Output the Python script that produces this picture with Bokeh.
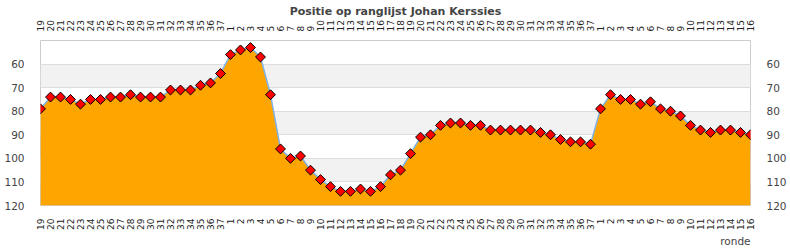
import math
from bokeh.plotting import figure
from bokeh.models import Range1d, FixedTicker, LinearAxis, Title, ColumnDataSource
from bokeh.embed import file_html
from bokeh.resources import INLINE

title_text = "Positie op ranglijst Johan Kerssies"
x_title = "ronde"

rounds = ["19", "20", "21", "22", "23", "24", "25", "26", "27", "28", "29", "30",
          "31", "32", "33", "34", "35", "36", "37",
          "1", "2", "3", "4", "5", "6", "7", "8", "9", "10", "11", "12", "13", "14",
          "15", "16", "17", "18", "19", "20", "21", "22", "23", "24", "25", "26",
          "27", "28", "29", "30", "31", "32", "33", "34", "35", "36", "37",
          "1", "2", "3", "4", "5", "6", "7", "8", "9", "10", "11", "12", "13", "14",
          "15", "16"]

positions = [79, 74, 74, 75, 77, 75, 75, 74, 74, 73, 74, 74,
             74, 71, 71, 71, 69, 68, 64, 56, 54, 53, 57, 73,
             96, 100, 99, 105, 109, 112, 114, 114, 113, 114, 112, 107,
             105, 98, 91, 90, 86, 85, 85, 86, 86, 88, 88, 88,
             88, 88, 89, 90, 92, 93, 93, 94, 79, 73, 75, 75,
             77, 76, 79, 80, 82, 86, 88, 89, 88, 88, 89, 90]

y_ticks = [60, 70, 80, 90, 100, 110, 120]
y_top = 50
y_bottom = 120

idx = list(range(len(rounds)))
src = ColumnDataSource(dict(x=idx, y=positions, base=[y_bottom] * len(idx)))

p = figure(width=790, height=250, output_backend="svg", toolbar_location=None,
           x_range=Range1d(idx[0], idx[-1]), y_range=Range1d(y_bottom, y_top),
           min_border_left=40, min_border_right=40, min_border_top=40, min_border_bottom=45,
           x_axis_location="below", y_axis_location="left")

p.title.text = title_text
p.title.align = "center"
p.title.text_font = "DejaVu Sans"
p.title.text_font_size = "11px"
p.title.text_font_style = "bold"
p.title.text_color = "#444444"
p.title.standoff = 0
p.title.offset = 0

p.outline_line_color = "#cccccc"
p.background_fill_color = "white"
p.border_fill_color = "white"

overrides = {i: r for i, r in enumerate(rounds)}

def style_x(ax, standoff):
    ax.ticker = FixedTicker(ticks=idx)
    ax.major_label_overrides = overrides
    ax.major_label_orientation = math.pi / 2
    ax.major_label_text_font = "DejaVu Sans"
    ax.major_label_text_font_size = "9px"
    ax.major_label_text_color = "#222222"
    ax.major_label_standoff = standoff
    ax.axis_line_color = None
    ax.major_tick_line_color = None
    ax.minor_tick_line_color = None

def style_y(ax):
    ax.ticker = FixedTicker(ticks=y_ticks)
    ax.major_label_text_font = "DejaVu Sans"
    ax.major_label_text_font_size = "10.5px"
    ax.major_label_text_color = "#444444"
    ax.major_label_standoff = 10
    ax.axis_line_color = None
    ax.major_tick_line_color = None
    ax.minor_tick_line_color = None

style_x(p.xaxis[0], 7)
style_y(p.yaxis[0])

top_axis = LinearAxis()
style_x(top_axis, 3)
p.add_layout(top_axis, "above")

right_axis = LinearAxis()
style_y(right_axis)
p.add_layout(right_axis, "right")

p.xgrid.grid_line_color = None
p.ygrid.ticker = FixedTicker(ticks=y_ticks)
p.ygrid.grid_line_color = "#dddddd"
p.ygrid.band_fill_color = "#f2f2f2"
p.ygrid.band_fill_alpha = 1.0

p.varea(x="x", y1="y", y2="base", source=src, fill_color="#ffa500")
p.line(x="x", y="y", source=src, line_color="#7fb2e5", line_width=1.5)
p.scatter(x="x", y="y", source=src, marker="square", angle=math.pi / 4, size=7,
          fill_color="#ff0000", line_color="#000000", line_width=1)

xt = Title(text=x_title, align="right", text_font="DejaVu Sans", text_font_size="10.5px",
           text_font_style="normal", text_color="#444444", standoff=0)
p.add_layout(xt, "below")

open("out.html", "w").write(file_html(p, INLINE))
